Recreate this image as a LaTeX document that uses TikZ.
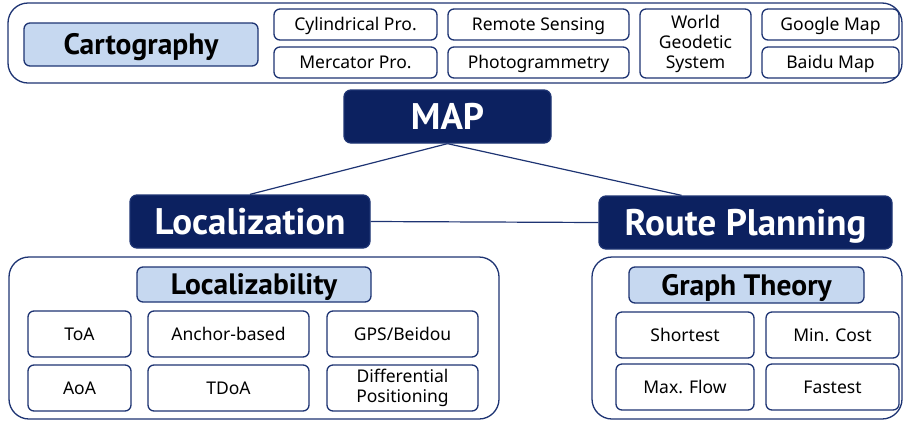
\documentclass[tikz,border=0pt]{standalone}
\usepackage{fontspec}
\setmainfont{Noto Sans}
\newfontfamily\headfont{PT Sans}
\definecolor{navy}{HTML}{0C2160}
\definecolor{edge}{HTML}{1E3473}
\definecolor{paleblue}{HTML}{C6D8F0}
\begin{document}
\begin{tikzpicture}[x=1pt,y=-1pt,
  base/.style={draw=edge,line width=1.3pt,align=center,inner sep=0pt,
    minimum width=#1},
  item/.style={base=#1,rounded corners=6pt,fill=white,text depth=0.05em,font=\fontsize{17.5}{19}\selectfont},
  pair/.style={base=#1,rounded corners=6pt,fill=white,font=\fontsize{17.5}{20}\selectfont},
  group/.style={base=#1,rounded corners=20pt,fill=white},
  topic/.style={base=#1,rounded corners=6pt,fill=paleblue,text depth=0.05em,font=\headfont\bfseries\fontsize{29.5}{31}\selectfont},
  hub/.style={base=#1,rounded corners=7pt,fill=navy,text=white,text depth=0.05em,font=\headfont\bfseries\fontsize{37}{39}\selectfont},
  link/.style={draw=edge,line width=1.2pt}]
\useasboundingbox (0,0) rectangle (904,421);

% cartography band
\node[group=894pt,minimum height=80pt] (carto) at (455,43) {};
\node[topic=234pt,minimum height=43pt] (cartt) at (141,44.5) {Cartography};
\node[item=163pt,minimum height=31pt] (cyl) at (355.5,24.5) {Cylindrical Pro.};
\node[item=163pt,minimum height=31pt] (merc) at (355.5,62.5) {Mercator Pro.};
\node[item=181pt,minimum height=31pt] (rs) at (538.5,24.5) {Remote Sensing};
\node[item=181pt,minimum height=31pt] (photo) at (538.5,62.5) {Photogrammetry};
\node[pair=111pt,minimum height=69pt] (wgs) at (695.5,43.5) {World\\Geodetic\\System};
\node[item=137pt,minimum height=31pt] (google) at (830.5,24.5) {Google Map};
\node[item=137pt,minimum height=31pt] (baidu) at (830.5,62.5) {Baidu Map};

% main hubs
\node[hub=207pt,minimum height=53pt] (map) at (447.5,116.5) {MAP};
\node[hub=240pt,minimum height=53pt] (loc) at (250,221.5) {Localization};
\node[hub=293pt,minimum height=53pt] (route) at (745.5,222.5) {Route Planning};
\draw[link] (map.south) -- (loc.north);
\draw[link] (map.south) -- ([xshift=-64pt]route.north);
\draw[link] (loc.east) -- (route.west);

% localization group
\node[group=490pt,minimum height=162pt] (locg) at (254,338) {};
\node[topic=234pt,minimum height=35pt] (lzb) at (254,284.5) {Localizability};
\node[item=103pt,minimum height=46pt] (toa) at (79.5,334) {ToA};
\node[item=161pt,minimum height=46pt] (anchor) at (228.5,334) {Anchor-based};
\node[item=151pt,minimum height=46pt] (gps) at (402.5,334) {GPS/Beidou};
\node[item=103pt,minimum height=46pt] (aoa) at (79.5,388) {AoA};
\node[item=161pt,minimum height=46pt] (tdoa) at (228.5,388) {TDoA};
\node[pair=151pt,minimum height=46pt] (diff) at (402.5,388) {Differential\\Positioning};

% route planning group
\node[group=310pt,minimum height=162pt] (routeg) at (747,338) {};
\node[topic=235pt,minimum height=36pt] (graph) at (746.5,285) {Graph Theory};
\node[item=138pt,minimum height=46pt] (short) at (685,335) {Shortest};
\node[item=133pt,minimum height=46pt] (mincost) at (832.5,335) {Min. Cost};
\node[item=138pt,minimum height=46pt] (maxflow) at (685,387) {Max. Flow};
\node[item=133pt,minimum height=46pt] (fast) at (832.5,387) {Fastest};
\end{tikzpicture}
\end{document}
